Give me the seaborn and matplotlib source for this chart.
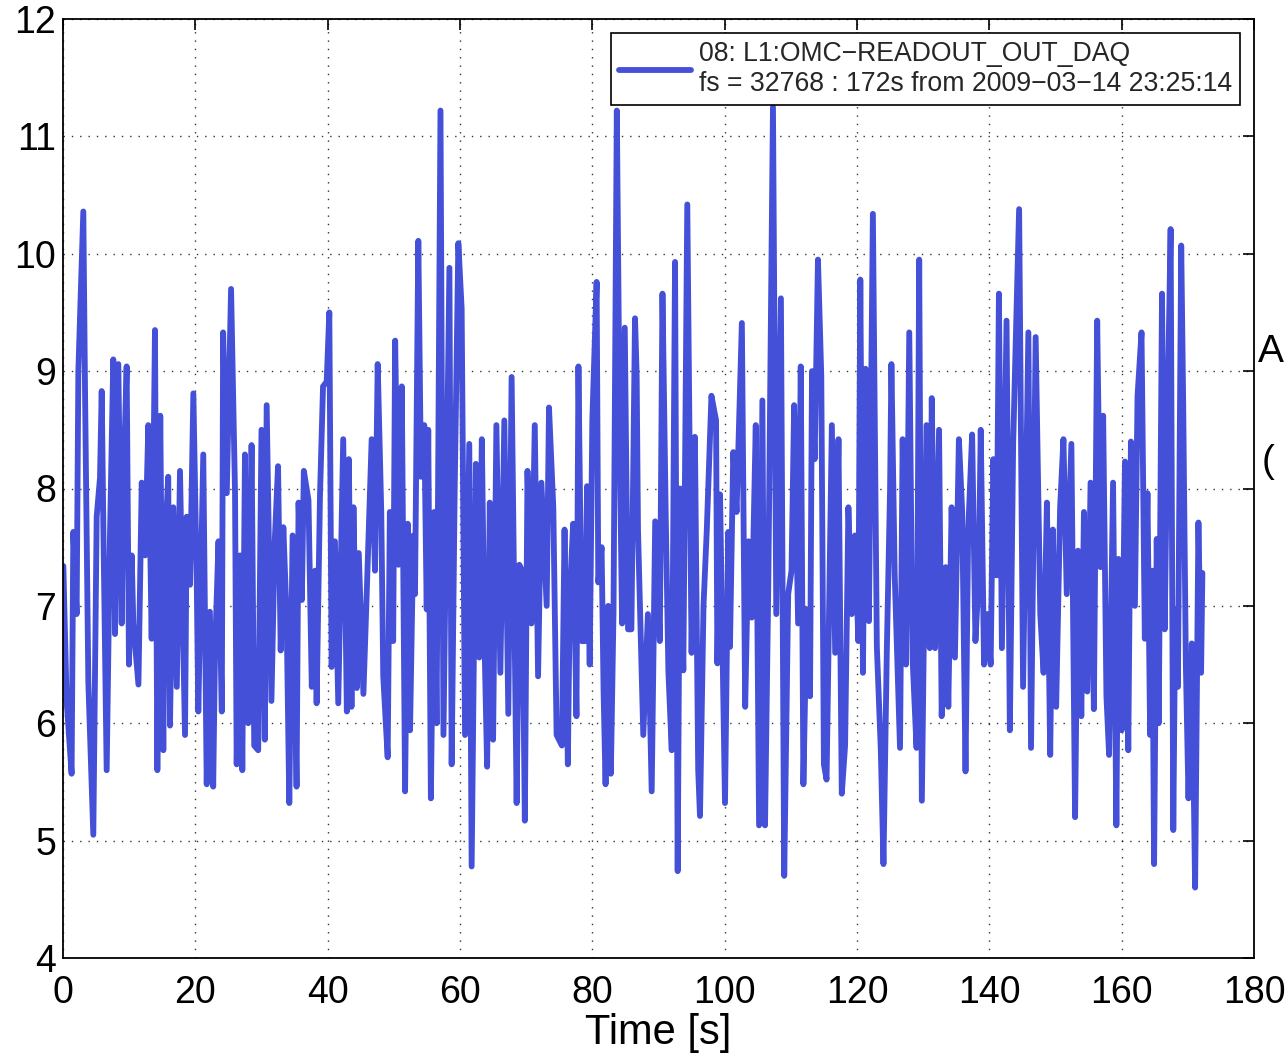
import numpy as np
import pandas as pd
import matplotlib
matplotlib.use("Agg")
import matplotlib.pyplot as plt
import seaborn as sns

# ---- data ----
time_s = [
    0.05, 0.55, 1.3, 1.56, 2.06, 2.32, 3.07, 3.33, 3.83, 4.58, 5.09, 5.59, 5.85, 6.1, 6.6, 7.1, 7.6, 7.86,
    8.36, 8.87, 9.12, 9.62, 9.97, 10.38, 10.63, 11.4, 11.9, 12.4, 12.9, 13.4, 13.9, 14.26, 14.7,
    15.16, 15.4, 15.9, 16.17, 16.67, 17.2, 17.68, 18.44, 18.7, 19.2, 19.7, 20.2, 20.45, 21.2, 21.72,
    22.2, 22.7, 22.97, 23.5, 24.0, 24.2, 24.75, 25.4, 26.0, 26.25, 26.75, 27.1, 27.5, 28.0, 28.5, 28.9,
    29.5, 30.0, 30.5, 30.78, 31.5, 32.0, 32.5, 32.9, 33.3, 33.8, 34.2, 34.7, 35.3, 35.6, 36.1, 36.4,
    37.1, 37.6, 38.1, 38.33, 38.84, 39.3, 39.85, 40.25, 40.6, 41.1, 41.6, 42.35, 42.9,
    43.2, 43.6, 43.9, 44.4, 44.7, 45.4, 45.9, 46.65, 47.15, 47.56, 48.1, 48.4, 49.07, 49.4, 49.9, 50.2,
    50.7, 51.2, 51.7, 52.1, 52.45, 52.95, 53.2, 53.7, 54.1, 54.6, 54.97, 55.2, 55.6, 56.1, 56.46, 57.05, 57.5,
    58.4, 58.74, 59.2, 59.75, 60.25, 60.76, 61.4, 61.76, 62.4, 62.9, 63.3, 63.7, 64.1, 64.5, 65.0, 65.5,
    66.1, 66.7, 67.3, 67.8, 68.56, 68.96, 69.4, 69.8, 70.2, 70.8, 71.3, 71.8,
    72.3, 73.1, 73.45, 74.1, 74.6, 75.4, 75.8, 76.3, 76.6, 77.1, 77.6, 77.9, 78.4, 78.9, 79.2, 79.6, 80.0,
    80.65, 80.9, 81.4, 81.7, 82.0, 82.4, 82.8, 83.2, 83.7, 84.2, 84.5, 84.9, 85.4, 85.9,
    86.45, 86.7, 86.9, 87.7, 88.4, 88.97, 89.5, 90.2, 90.6, 91.1, 91.5, 92.0, 92.5, 92.9, 93.25, 93.75,
    94.35, 95.0, 95.5, 96.0, 96.27, 96.8, 97.3, 98.0, 98.7, 98.9, 99.3, 100.05,
    100.55, 100.8, 101.3, 101.8, 102.6, 103.1, 103.6, 104.1, 104.7, 105.2, 105.7, 106.1, 106.6, 107.3,
    107.8, 108.5, 109.0, 109.6, 110.1, 110.5, 111.1, 111.5, 111.9, 112.4, 112.9, 113.2, 113.6, 114.1, 114.6, 115.0,
    115.4, 116.2, 116.7, 117.2, 117.7, 118.2, 118.7, 119.2, 119.7, 120.2, 120.5, 120.9, 121.3, 121.8, 122.4,
    123.0, 123.6, 124.0, 124.5, 125.0, 125.2, 125.7, 126.5, 126.9, 127.4, 127.9, 128.4, 129.0, 129.4, 129.8,
    130.5, 131.0, 131.3, 131.8, 132.4, 132.8, 133.4, 133.8, 134.3, 134.8, 135.4, 135.9, 136.4, 136.8, 137.4,
    137.9, 138.4, 138.7, 139.2, 139.7, 140.2, 140.6, 141.1, 141.45, 141.9, 142.6, 143.1, 143.6,
    144.5, 145.1, 145.9, 146.3, 147.0, 147.7, 148.2, 148.7, 149.2, 149.6, 150.1, 150.7, 151.2, 151.7, 152.4,
    152.96, 153.4, 153.9, 154.3, 154.8, 155.3, 155.8, 156.3, 156.8, 157.2, 157.7,
    158.1, 158.7, 159.2, 159.5, 160.0, 160.5, 161.0, 161.4, 162.0, 162.4, 163.0, 163.5, 163.9, 164.3, 164.6,
    164.9, 165.3, 165.6, 166.1, 166.5, 167.0, 167.4, 167.8, 168.1, 168.5, 169.0, 169.3, 169.7, 170.1, 170.6,
    171.1, 171.6, 172.0, 172.2,
]
signal = [
    7.34, 6.19, 5.57, 7.63, 6.93, 9.0, 10.36, 8.83, 6.35, 5.05, 7.76, 8.09, 8.83, 7.67, 5.6, 7.6, 9.1, 6.76,
    9.06, 6.85, 8.0, 9.04, 6.5, 7.43, 6.85, 6.33, 8.05, 7.43, 8.54, 6.72, 9.35, 5.6, 8.62,
    5.77, 7.5, 8.1, 5.98, 7.84, 6.31, 8.15, 5.9, 7.76, 7.18, 8.81, 7.26, 6.1, 8.29, 5.48,
    6.95, 5.46, 6.6, 7.55, 6.1, 9.33, 7.96, 9.7, 7.96, 5.65, 7.43, 5.6, 8.29, 6.0, 8.37, 5.81,
    5.77, 8.5, 5.86, 8.71, 6.19, 7.55, 8.19, 6.62, 7.67, 6.9, 5.32, 7.6, 5.46, 7.88, 7.05, 8.15,
    7.9, 6.31, 7.3, 6.17, 7.94, 8.87, 8.91, 9.5, 6.48, 7.55, 6.17, 8.42, 6.1,
    8.25, 6.14, 7.84, 6.3, 7.45, 6.25, 7.1, 8.42, 7.3, 9.06, 7.8, 6.4, 5.71, 7.8, 6.7, 9.26,
    7.35, 8.87, 5.42, 7.7, 5.94, 7.6, 7.1, 10.11, 8.1, 8.54, 6.97, 8.5, 5.36, 7.8, 6.0, 11.22, 5.9,
    9.88, 5.65, 8.0, 10.09, 9.53, 5.9, 8.38, 4.78, 8.21, 6.56, 8.42, 6.7, 5.63, 7.88, 5.86, 8.54,
    6.43, 8.58, 6.08, 8.95, 5.32, 7.35, 7.3, 5.17, 8.15, 6.85, 8.54, 6.4,
    8.05, 7.0, 8.69, 7.84, 5.9, 5.81, 7.65, 5.65, 7.1, 7.7, 6.06, 9.04, 6.7, 6.7, 8.02, 6.5, 8.58,
    9.76, 7.2, 7.5, 6.27, 5.48, 7.0, 5.57, 6.95, 11.22, 8.1, 6.85, 9.37, 6.8, 6.8,
    9.45, 8.96, 7.65, 5.9, 6.93, 5.42, 7.72, 6.7, 9.66, 7.75, 6.43, 5.77, 9.93, 4.74, 8.0, 6.45,
    10.42, 6.6, 8.44, 5.6, 5.21, 7.0, 7.65, 8.79, 8.58, 6.51, 7.95, 5.32,
    7.63, 6.65, 8.31, 7.8, 9.41, 6.14, 7.55, 6.9, 8.54, 5.13, 8.75, 5.13, 7.2, 11.25,
    6.93, 9.62, 4.7, 7.1, 7.3, 8.71, 6.85, 9.04, 5.48, 6.97, 6.23, 9.0, 8.25, 9.95, 8.96, 5.65,
    5.52, 8.54, 6.6, 8.42, 5.4, 5.81, 7.84, 6.93, 7.6, 6.7, 9.78, 6.43, 9.02, 6.87, 10.34,
    6.65, 5.77, 4.8, 6.6, 8.0, 9.06, 7.26, 5.79, 8.42, 6.5, 9.33, 6.55, 5.79, 9.95, 5.34,
    8.54, 6.64, 8.77, 6.64, 8.5, 6.06, 7.33, 6.14, 7.84, 6.56, 8.42, 7.8, 5.59, 7.63, 8.46,
    6.7, 7.26, 8.5, 6.5, 6.93, 6.5, 8.25, 7.26, 9.66, 6.64, 9.43, 5.94, 8.38,
    10.38, 6.31, 9.33, 5.79, 9.29, 6.93, 6.43, 7.88, 5.73, 7.65, 6.14, 7.84, 8.42, 7.1, 8.38,
    5.2, 7.47, 6.06, 7.8, 6.27, 8.05, 6.12, 9.43, 7.33, 8.62, 6.23,
    5.73, 8.05, 5.13, 7.4, 5.94, 8.23, 5.77, 8.4, 7.0, 8.79, 9.33, 6.72, 7.96, 5.9, 7.3,
    4.8, 7.57, 6.0, 9.66, 6.8, 8.87, 10.21, 5.09, 6.97, 6.31, 10.07, 8.71, 6.5, 5.36, 6.68,
    4.6, 7.71, 6.43, 7.28,
]
x_ticks = [0, 20, 40, 60, 80, 100, 120, 140, 160, 180]
y_ticks = [4, 5, 6, 7, 8, 9, 10, 11, 12]
legend_label = "08: L1:OMC\u2212READOUT_OUT_DAQ\nfs = 32768 : 172s from 2009\u221203\u221214 23:25:14"
x_label = "Time [s]"

df = pd.DataFrame({"t": time_s, "v": signal})

sns.set_theme(style="white")
plt.rcParams["font.family"] = ["Liberation Sans", "DejaVu Sans"]

fig = plt.figure(figsize=(12.86, 10.56), dpi=100)
ax = fig.add_axes([63 / 1286, 1 - 958 / 1056, (1254 - 63) / 1286, (958 - 19) / 1056])

line_color = "#4450d8"
sns.lineplot(data=df, x="t", y="v", ax=ax, color=line_color, linewidth=4.2,
             estimator=None, sort=False, label=legend_label)

ax.set_xlim(0, 180)
ax.set_ylim(4, 12)
ax.set_xticks(x_ticks)
ax.set_yticks(y_ticks)
ax.set_xlabel(x_label, fontsize=30, labelpad=2, color="black")
ax.set_ylabel("")

ax.grid(True, linestyle=(0, (1, 5)), color="black", linewidth=1.0, alpha=0.8)
ax.tick_params(axis="both", which="both", direction="in", length=8, width=1.2,
               top=True, right=True, labelsize=27, colors="black")
ax.tick_params(axis="x", pad=12)
ax.tick_params(axis="y", pad=5)
for s in ax.spines.values():
    s.set_color("black")
    s.set_linewidth(1.3)

leg = ax.legend(loc="upper right", bbox_to_anchor=((1240 - 63) / 1191, (958 - 33) / 939),
                borderaxespad=0, fontsize=19.2, handlelength=2.7, handletextpad=0.3,
                fancybox=False, framealpha=1, edgecolor="black", borderpad=0.3,
                labelspacing=0.2)
leg.get_frame().set_linewidth(1.2)
for lh in leg.get_lines():
    lh.set_linewidth(4.2)

# fragments visible at the right edge of the original page
fig.text(1258 / 1286, 1 - 352 / 1056, "A", fontsize=28, va="center", ha="left", color="black")
fig.text(1262 / 1286, 1 - 462 / 1056, "(", fontsize=28, va="center", ha="left", color="black")

fig.savefig("out.png", dpi=100)
